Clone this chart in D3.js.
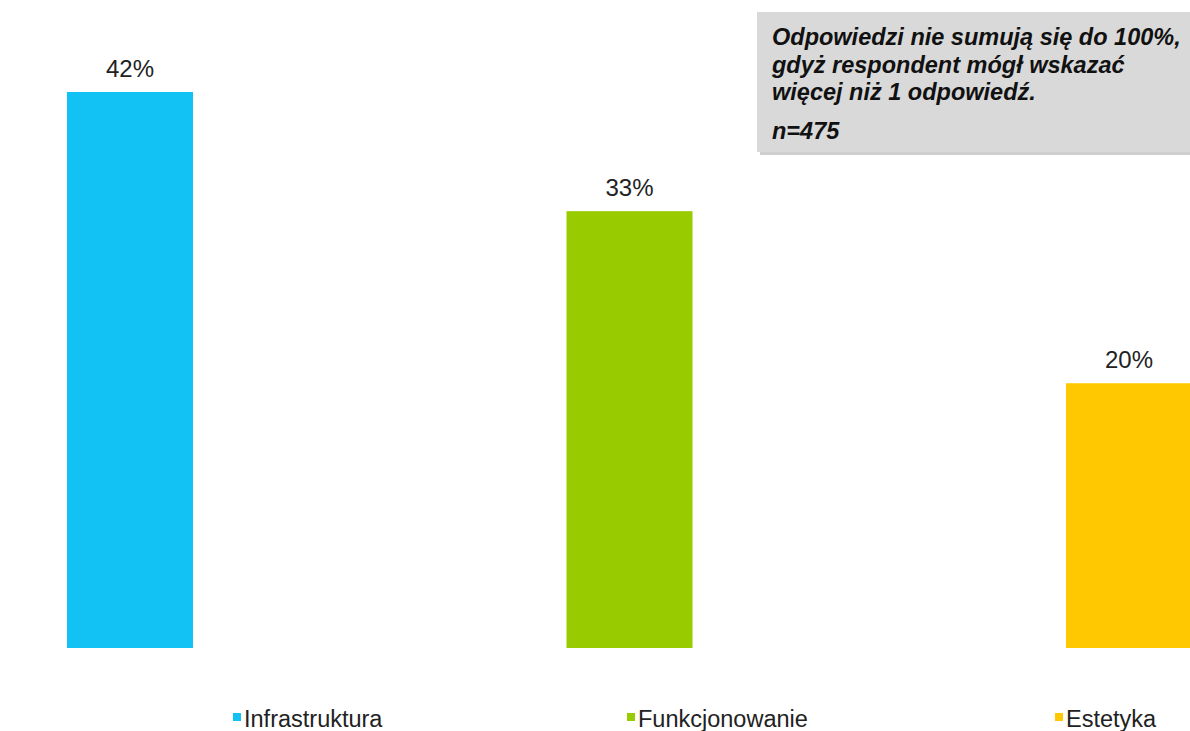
<!DOCTYPE html>
<html>
<head>
<meta charset="utf-8">
<script src="https://cdn.jsdelivr.net/npm/d3@7"></script>
<style>
  body { margin: 0; background: #fff; }
  svg { display: block; font-family: "Liberation Sans", Arial, sans-serif; }
</style>
</head>
<body>
<svg id="chart"></svg>
<script>
// chart data
const categories = ['Infrastruktura', 'Funkcjonowanie', 'Estetyka'];
const values = [42, 33, 20];
const colors = ['#12C2F4', '#99CC00', '#FFC800'];
const legendX = [233, 627, 1055];
const noteLines = ['Odpowiedzi nie sumują się do 100%,', 'gdyż respondent mógł wskazać', 'więcej niż 1 odpowiedź.'];
const noteN = 'n=475';

const width = 1190;
const height = 731;

const svg = d3.select('#chart')
  .attr('width', width)
  .attr('height', height);

// scales
const x = d3.scalePoint()
  .domain(categories)
  .range([130, 1129]);
const barWidth = 126;

const y = d3.scaleLinear()
  .domain([0, 42])
  .range([648, 92]);

// bars
svg.selectAll('rect.bar')
  .data(categories)
  .enter()
  .append('rect')
  .attr('class', 'bar')
  .attr('x', (d) => x(d) - barWidth / 2)
  .attr('y', (d, i) => y(values[i]))
  .attr('width', barWidth)
  .attr('height', (d, i) => y(0) - y(values[i]))
  .attr('fill', (d, i) => colors[i]);

// value labels
svg.selectAll('text.val')
  .data(categories)
  .enter()
  .append('text')
  .attr('class', 'val')
  .attr('x', (d) => x(d))
  .attr('y', (d, i) => y(values[i]) - 15)
  .attr('text-anchor', 'middle')
  .attr('font-size', 24)
  .attr('fill', '#222')
  .text((d, i) => values[i] + '%');

// note box
const note = svg.append('g');
note.append('rect')
  .attr('x', 760)
  .attr('y', 15)
  .attr('width', 440)
  .attr('height', 140)
  .attr('fill', '#cfcfcf');
note.append('rect')
  .attr('x', 757)
  .attr('y', 12)
  .attr('width', 440)
  .attr('height', 140)
  .attr('fill', '#d9d9d9');
note.selectAll('text.line')
  .data(noteLines)
  .enter()
  .append('text')
  .attr('class', 'line')
  .attr('x', 772)
  .attr('y', (d, i) => 45 + i * 27.5)
  .attr('font-size', 23.5)
  .attr('font-weight', 'bold')
  .attr('font-style', 'italic')
  .attr('fill', '#111')
  .text((d) => d);
note.append('text')
  .attr('x', 772)
  .attr('y', 139)
  .attr('font-size', 23.5)
  .attr('font-weight', 'bold')
  .attr('font-style', 'italic')
  .attr('fill', '#111')
  .text(noteN);

// legend
const legend = svg.selectAll('g.legend')
  .data(categories)
  .enter()
  .append('g')
  .attr('class', 'legend')
  .attr('transform', (d, i) => `translate(${legendX[i]},0)`);
legend.append('rect')
  .attr('x', 0)
  .attr('y', 713)
  .attr('width', 8)
  .attr('height', 8)
  .attr('fill', (d, i) => colors[i]);
legend.append('text')
  .attr('x', 11)
  .attr('y', 727)
  .attr('font-size', 23.5)
  .attr('fill', '#222')
  .text((d) => d);
</script>
</body>
</html>
